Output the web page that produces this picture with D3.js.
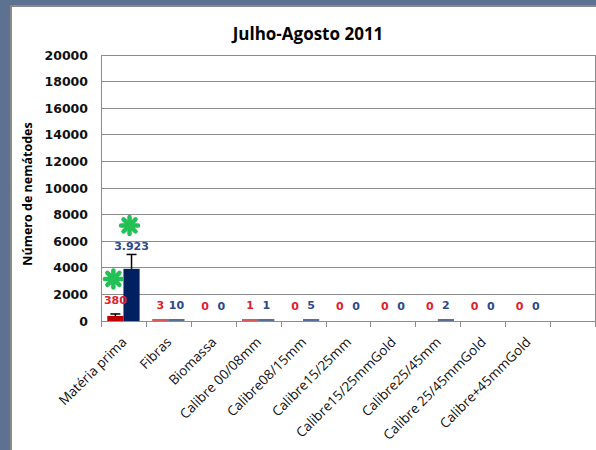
<!DOCTYPE html>
<html><head><meta charset="utf-8">
<script src="https://cdn.jsdelivr.net/npm/d3@7"></script>
<style>
html,body{margin:0;padding:0;background:#5d7291;}
svg{display:block;}
</style></head>
<body>
<script>
const categories = ["Matéria prima","Fibras","Biomassa","Calibre 00/08mm","Calibre08/15mm","Calibre15/25mm","Calibre15/25mmGold","Calibre25/45mm","Calibre 25/45mmGold","Calibre+45mmGold",""];
const seriesRed = [380,3,0,1,0,0,0,0,0,0];
const seriesBlue = [3923,10,0,1,5,0,0,2,0,0];
const errRed = [150,0,0,0,0,0,0,0,0,0];
const errBlue = [1080,0,0,0,0,0,0,0,0,0];
const labelsRed = ["380","3","0","1","0","0","0","0","0","0"];
const labelsBlue = ["3.923","10","0","1","5","0","0","2","0","0"];
const yTicks = [0,2000,4000,6000,8000,10000,12000,14000,16000,18000,20000];
const markers = [{cat:"Matéria prima", series:"red"},{cat:"Matéria prima", series:"blue"}];

const W=596,H=450;
const svg=d3.select("body").append("svg").attr("width",W).attr("height",H);
// white panel
svg.append("rect").attr("x",10).attr("y",5).attr("width",W-10).attr("height",H-5).attr("fill","#8a8a8a");
svg.append("rect").attr("x",12).attr("y",7).attr("width",W-12).attr("height",H-7).attr("fill","#ffffff");

const m={left:101,top:55,right:595,bottom:321};
const x=d3.scaleBand().domain(categories).range([m.left,m.right]);
const xs=d3.scaleBand().domain(["red","blue"]).range([0,x.bandwidth()]).paddingInner(0).paddingOuter(0.39);
const y=d3.scaleLinear().domain([0,20000]).range([m.bottom,m.top]);

// gridlines
svg.append("g").selectAll("line").data(yTicks.filter(d=>d>0)).join("line")
 .attr("x1",m.left).attr("x2",m.right).attr("y1",d=>y(d)).attr("y2",d=>y(d))
 .attr("stroke","#8c8c8c").attr("stroke-width",1).attr("shape-rendering","crispEdges");
// plot border
svg.append("line").attr("x1",m.right).attr("x2",m.right).attr("y1",m.top).attr("y2",m.bottom).attr("stroke","#8c8c8c").attr("shape-rendering","crispEdges");
svg.append("line").attr("x1",m.left).attr("x2",m.left).attr("y1",m.top).attr("y2",m.bottom).attr("stroke","#8c8c8c").attr("shape-rendering","crispEdges");

// y axis labels
const yAxis=d3.axisLeft(y).tickValues(yTicks).tickSize(0).tickPadding(13).tickFormat(d3.format("d"));
const ga=svg.append("g").attr("transform",`translate(${m.left},0)`).call(yAxis);
ga.select(".domain").remove();
ga.selectAll("text").attr("font-family","'DejaVu Sans'").attr("font-weight","bold").attr("font-size",12.5).attr("fill","#111");

// x axis
const xAxis=d3.axisBottom(x).tickSize(0).tickFormat("");
const gx=svg.append("g").attr("transform",`translate(0,${m.bottom})`).call(xAxis);
gx.select(".domain").attr("stroke","#8c8c8c");
gx.selectAll(".tick").remove();
// boundary ticks
const bounds=categories.map(c=>x(c)).concat([x(categories[categories.length-1])+x.bandwidth()]);
svg.append("g").selectAll("line").data(bounds).join("line")
 .attr("x1",d=>Math.round(d)+0.5).attr("x2",d=>Math.round(d)+0.5).attr("y1",m.bottom).attr("y2",m.bottom+6).attr("stroke","#8c8c8c");

// category labels
svg.append("g").selectAll("text").data(categories).join("text")
 .attr("transform",c=>`translate(${x(c)+x.bandwidth()/2+4},${m.bottom+22}) rotate(-45)`)
 .attr("text-anchor","end").attr("font-family","'Open Sans'").attr("font-size",13.5).attr("fill","#111")
 .text(c=>c);

const colRed="#c00000", colBlue="#002060";
const lblRed="#e0202a", lblBlue="#2a4a8a";
const data=categories.slice(0,seriesRed.length).map((c,i)=>({c,i}));
function barH(v){return v>0?Math.max(m.bottom-y(v),2):0;}
// bars
[["red",seriesRed,colRed],["blue",seriesBlue,colBlue]].forEach(([s,vals,col])=>{
 svg.append("g").selectAll("rect").data(data).join("rect")
  .attr("x",d=>x(d.c)+xs(s)).attr("width",xs.bandwidth())
  .attr("y",d=>m.bottom-barH(vals[d.i])).attr("height",d=>barH(vals[d.i]))
  .attr("fill",col).attr("opacity",d=>vals[d.i]<50?0.65:1);
});
// error bars
[["red",seriesRed,errRed],["blue",seriesBlue,errBlue]].forEach(([s,vals,errs])=>{
 const g=svg.append("g").attr("stroke","#000").attr("stroke-width",1.5);
 data.filter(d=>errs[d.i]>0).forEach(d=>{
  const cx=x(d.c)+xs(s)+xs.bandwidth()/2;
  g.append("line").attr("x1",cx).attr("x2",cx).attr("y1",y(vals[d.i])).attr("y2",y(vals[d.i]+errs[d.i]));
  g.append("line").attr("x1",cx-5).attr("x2",cx+5).attr("y1",y(vals[d.i]+errs[d.i])).attr("y2",y(vals[d.i]+errs[d.i]));
 });
});
// value labels
function labelY(v,e){ return e>0 ? Math.min(y(v)-12, y(v+e)-4) : y(v)-11.5; }
[["red",seriesRed,errRed,labelsRed,lblRed],["blue",seriesBlue,errBlue,labelsBlue,lblBlue]].forEach(([s,vals,errs,lbls,col])=>{
 svg.append("g").selectAll("text").data(data).join("text")
  .attr("x",d=>x(d.c)+xs(s)+xs.bandwidth()/2)
  .attr("y",d=>labelY(vals[d.i],errs[d.i]))
  .attr("text-anchor","middle").attr("font-family","'DejaVu Sans'").attr("font-weight","bold")
  .attr("font-size",11).attr("fill",col).text(d=>lbls[d.i]);
});
// significance markers (green asterisks)
markers.forEach(mk=>{
 const i=categories.indexOf(mk.cat);
 const vals=mk.series==="red"?seriesRed:seriesBlue, errs=mk.series==="red"?errRed:errBlue;
 const cx=x(mk.cat)+xs(mk.series)+xs.bandwidth()/2 - 2;
 const cy=labelY(vals[i],errs[i]) - 25;
 const g=svg.append("g").attr("transform",`translate(${cx},${cy})`).attr("stroke","#22c055").attr("stroke-width",4.5).attr("stroke-linecap","round");
 [0,45,90,135].forEach(a=>{
  const r=8.5, rad=a*Math.PI/180;
  g.append("line").attr("x1",-r*Math.cos(rad)).attr("y1",-r*Math.sin(rad)).attr("x2",r*Math.cos(rad)).attr("y2",r*Math.sin(rad));
 });
});

// title
svg.append("text").attr("x",308).attr("y",40).attr("text-anchor","middle")
 .attr("font-family","'Open Sans'").attr("font-weight","bold").attr("font-size",17).attr("fill","#000").text("Julho-Agosto 2011");
// y title
svg.append("text").attr("transform",`translate(32,${(m.top+m.bottom)/2+6}) rotate(-90)`).attr("text-anchor","middle")
 .attr("font-family","'Open Sans'").attr("font-weight","bold").attr("font-size",12.5).attr("fill","#000").text("Número de nemátodes");
</script>
</body></html>
